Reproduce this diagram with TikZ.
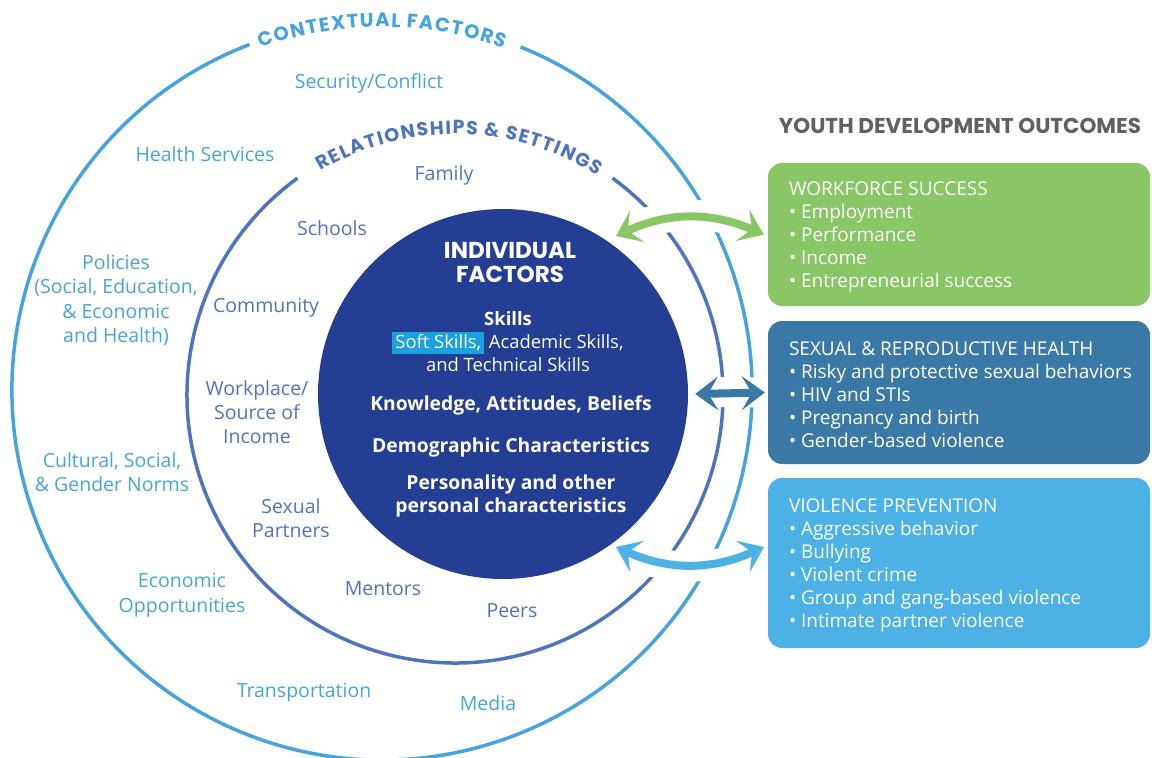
\documentclass[tikz,border=0pt]{standalone}
\usepackage{fontspec}
\newfontfamily\bodyfont{Open Sans}
\newfontfamily\headfont{Poppins}
\usepackage{xcolor}
\usetikzlibrary{arrows.meta,decorations.text,calc,positioning}

\definecolor{ctxblue}{RGB}{70,163,222}
\definecolor{relblue}{RGB}{78,116,192}
\definecolor{indblue}{RGB}{36,62,148}
\definecolor{softcyan}{RGB}{27,160,224}
\definecolor{wfgreen}{RGB}{137,198,101}
\definecolor{srhblue}{RGB}{58,121,166}
\definecolor{vpblue}{RGB}{76,178,229}
\definecolor{titlegray}{RGB}{96,97,100}

\setlength{\fboxsep}{3pt}
% small gap between the letters of the ring titles, wider one between words
\newcommand{\ls}{\kern1.4pt}
\newcommand{\ws}{\kern6pt}

\tikzset{
  ringline/.style={line width=3.5pt},
  ctxlabel/.style={text=ctxblue, align=center, font=\bodyfont\fontsize{19.5}{24.5}\selectfont},
  rellabel/.style={text=relblue, align=center, font=\bodyfont\fontsize{19.5}{24}\selectfont},
  indhead/.style={text=white, align=center, font=\headfont\bfseries\fontsize{23}{24}\selectfont},
  indtext/.style={text=white, align=center, font=\bodyfont\fontsize{18.4}{23}\selectfont},
  indbold/.style={text=white, align=center, font=\bodyfont\bfseries\fontsize{19.3}{23}\selectfont},
  outbox/.style={rounded corners=14pt, minimum width=382pt, inner sep=0pt},
  boxtext/.style={anchor=west, inner sep=0pt, align=left, text=white, font=\bodyfont\fontsize{19}{23}\selectfont},
  dblarrow/.style={line width=8pt,
    {Stealth[length=23pt,width=34pt,inset=10pt]}-{Stealth[length=23pt,width=34pt,inset=10pt]}},
  halo/.style={white, line width=30pt},
}

\begin{document}
\begin{tikzpicture}[x=1pt,y=-1pt]
\useasboundingbox (0,0) rectangle (1152,758);

% ring centres
\coordinate (co) at (382,390);
\coordinate (cm) at (455,395);

% the two rings, open at the top for their titles
\draw[ringline, ctxblue] ($(co)+(111:370pt)$) arc[start angle=111, end angle=428, radius=370pt];
\draw[ringline, relblue] ($(cm)+(126:268pt)$) arc[start angle=126, end angle=414, radius=268pt];

\path[decorate, decoration={text along path, text align=center,
  text={|\headfont\bfseries\fontsize{19.5}{19.5}\selectfont\color{ctxblue}|C{\ls}O{\ls}N{\ls}T{\ls}E{\ls}X{\ls}T{\ls}U{\ls}A{\ls}L{\ws}F{\ls}A{\ls}C{\ls}T{\ls}O{\ls}R{\ls}S}}]
  ($(co)+(115:363pt)$) arc[start angle=115, end angle=65, radius=363pt];
\path[decorate, decoration={text along path, text align=center,
  text={|\headfont\bfseries\fontsize{19}{19}\selectfont\color{relblue}|R{\ls}E{\ls}L{\ls}A{\ls}T{\ls}I{\ls}O{\ls}N{\ls}S{\ls}H{\ls}I{\ls}P{\ls}S{\ws}{\&}{\ws}S{\ls}E{\ls}T{\ls}T{\ls}I{\ls}N{\ls}G{\ls}S}}]
  ($(cm)+(130:261pt)$) arc[start angle=130, end angle=48, radius=261pt];

% outcome boxes
\node[font=\headfont\bfseries\fontsize{21.5}{24}\selectfont, text=titlegray] (outtitle) at (960,126) {YOUTH DEVELOPMENT OUTCOMES};
\node[outbox, fill=wfgreen, minimum height=143pt] (wf) at (959,234.5) {};
\node[outbox, fill=srhblue, minimum height=143pt] (srh) at (959,392.5) {};
\node[outbox, fill=vpblue, minimum height=170pt] (vp) at (959,563) {};
\node[boxtext] (wftext) at ([xshift=21pt,yshift=-2pt]wf.west)
  {WORKFORCE SUCCESS\\• Employment\\• Performance\\• Income\\• Entrepreneurial success};
\node[boxtext] (srhtext) at ([xshift=21pt,yshift=-2pt]srh.west)
  {SEXUAL \& REPRODUCTIVE HEALTH\\• Risky and protective sexual behaviors\\• HIV and STIs\\• Pregnancy and birth\\• Gender-based violence};
\node[boxtext] (vptext) at ([xshift=21pt,yshift=-2pt]vp.west)
  {VIOLENCE PREVENTION\\• Aggressive behavior\\• Bullying\\• Violent crime\\• Group and gang-based violence\\• Intimate partner violence};

\coordinate (wfin) at (616,236);
\coordinate (vpin) at (616,547);
\coordinate (vpout) at (764,547);

% gaps in the rings where the arrows cross
\draw[halo, shorten <=20pt, shorten >=20pt] (wfin) to[bend left=24] (wf.west);
\draw[halo, shorten <=12pt, shorten >=10pt] (700,392) -- (srh.west);
\draw[halo, shorten <=20pt, shorten >=20pt] (vpin) to[bend right=24] (vpout);

% individual factors
\node[circle, fill=indblue, minimum size=370pt, inner sep=0pt] (ind) at (503,394) {};
\node[indhead] (indtitle) at (510,263) {INDIVIDUAL\\FACTORS};
\node[indtext] (skills) at (508,342) {{\bfseries Skills}\\\colorbox{softcyan}{Soft Skills,} Academic Skills,\\and Technical Skills};
\node[indbold] (kab) at (511,405) {Knowledge, Attitudes, Beliefs};
\node[indbold] (demog) at (511,447) {Demographic Characteristics};
\node[indbold] (person) at (511,496) {Personality and other\\personal characteristics};

% contextual factors
\node[ctxlabel] (secur) at (369,83) {Security/Conflict};
\node[ctxlabel] (health) at (205,154) {Health Services};
\node[ctxlabel] (policy) at (116,300) {Policies\\(Social, Education,\\\& Economic\\and Health)};
\node[ctxlabel] (norms) at (112,472) {Cultural, Social,\\\& Gender Norms};
\node[ctxlabel] (econ) at (182,595) {Economic\\Opportunities};
\node[ctxlabel] (transp) at (304,693) {Transportation};
\node[ctxlabel] (media) at (488,703) {Media};

% relationships and settings
\node[rellabel] (family) at (444,175) {Family};
\node[rellabel] (school) at (332,228) {Schools};
\node[rellabel] (commun) at (266,308) {Community};
\node[rellabel] (work) at (257,412) {Workplace/\\Source of\\Income};
\node[rellabel] (partner) at (291,518) {Sexual\\Partners};
\node[rellabel] (mentor) at (383,589) {Mentors};
\node[rellabel] (peers) at (512,611) {Peers};

% arrows
\draw[dblarrow, wfgreen] (wfin) to[bend left=24] ([xshift=-4pt]wf.west);
\draw[dblarrow, srhblue] ([xshift=7pt]ind.east) -- ([xshift=-3pt]srh.west);
\draw[dblarrow, vpblue] (vpin) to[bend right=24] (vpout);
\end{tikzpicture}
\end{document}
